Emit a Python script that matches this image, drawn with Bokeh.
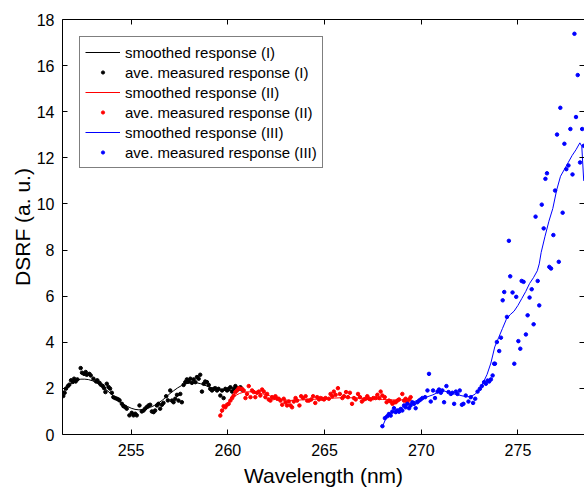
from bokeh.plotting import figure
from bokeh.models import Range1d, LinearAxis, FixedTicker, Legend, LegendItem
from bokeh.embed import file_html
from bokeh.resources import INLINE

# ---- data ----
black_dot_x = [251.49, 251.56, 251.63, 251.73, 251.80, 251.89, 251.98, 252.05, 252.13, 252.22,
               252.39, 252.46, 252.56, 252.65, 252.70, 252.84, 252.91, 253.05, 253.19, 253.25,
               253.36, 253.43, 253.53, 253.60, 253.67, 253.74, 253.83, 253.91, 254.00, 254.08,
               254.17, 254.26, 254.34, 254.40, 254.52, 254.60, 254.69, 254.77, 254.91, 255.03,
               255.12, 255.21, 255.29, 255.43, 255.55, 255.64, 255.72, 255.81, 255.90, 255.98,
               256.07, 256.16, 256.24, 256.33, 256.41, 256.50, 256.59, 256.67, 256.81, 256.90,
               257.02, 257.11, 257.19, 257.28, 257.37, 257.45, 257.54, 257.62, 257.71, 257.80,
               257.88, 257.97, 258.06, 258.14, 258.23, 258.32, 258.40, 258.49, 258.57, 258.66,
               258.75, 258.83, 258.92, 259.01, 259.09, 259.18, 259.27, 259.35, 259.44, 259.52,
               259.61, 259.70, 259.78, 259.87, 259.96, 260.04, 260.13, 260.22, 260.30, 260.39,
               260.47, 260.56, 260.65, 260.73]
black_dot_y = [1.67, 1.81, 1.99, 2.10, 2.16, 2.35, 2.28, 2.42, 2.30, 2.39,
               2.88, 2.68, 2.63, 2.71, 2.59, 2.63, 2.56, 2.42, 2.30, 2.35,
               2.24, 2.16, 2.10, 2.01, 1.84, 2.20, 2.06, 1.99, 1.81, 1.62,
               1.58, 1.55, 1.52, 1.48, 1.33, 1.23, 1.19, 1.12, 0.83, 0.94,
               0.83, 0.90, 0.83, 1.26, 1.00, 1.04, 1.12, 1.19, 1.26, 1.29,
               1.00, 0.97, 1.04, 1.26, 1.33, 1.12, 1.29, 1.37, 1.66, 1.48,
               1.91, 1.47, 1.40, 1.55, 1.72, 1.47, 1.76, 1.40, 2.15, 2.27,
               2.39, 2.30, 2.42, 2.24, 2.39, 2.27, 2.49, 2.42, 2.59, 1.86,
               2.20, 2.30, 2.27, 2.15, 1.98, 1.91, 1.98, 2.01, 1.91, 1.98,
               1.69, 1.91, 1.58, 1.98, 1.91, 1.98, 2.05, 1.86, 1.98, 2.10,
               2.01, 1.98, 2.05, 1.95]

black_line_x = [251.4, 251.6, 251.8, 252.0, 252.2, 252.4, 252.6, 252.8, 253.0, 253.2,
                253.4, 253.6, 253.8, 254.0, 254.2, 254.4, 254.6, 254.8, 255.0, 255.2,
                255.4, 255.6, 255.8, 256.0, 256.2, 256.4, 256.6, 256.8, 257.0, 257.2,
                257.4, 257.6, 257.8, 258.0, 258.2, 258.4, 258.6, 258.8, 259.0, 259.2,
                259.4, 259.6, 259.8, 260.0, 260.2, 260.4]
black_line_y = [1.75, 1.98, 2.15, 2.28, 2.36, 2.40, 2.40, 2.38, 2.33, 2.25,
                2.15, 2.02, 1.88, 1.73, 1.58, 1.44, 1.32, 1.22, 1.14, 1.09,
                1.07, 1.08, 1.12, 1.18, 1.26, 1.36, 1.48, 1.62, 1.77, 1.90,
                2.02, 2.12, 2.19, 2.23, 2.25, 2.24, 2.20, 2.14, 2.07, 2.01,
                1.96, 1.93, 1.91, 1.90, 1.90, 1.92]

red_dot_x = [259.61, 259.70, 259.78, 259.87, 259.96, 260.04, 260.13, 260.22, 260.30, 260.39,
             260.47, 260.56, 260.65, 260.73, 260.82, 260.91, 260.99, 261.08, 261.17, 261.25,
             261.34, 261.42, 261.51, 261.60, 261.68, 261.77, 261.86, 261.94, 262.03, 262.11,
             262.20, 262.29, 262.37, 262.46, 262.55, 262.63, 262.72, 262.81, 262.89, 262.98,
             263.06, 263.15, 263.24, 263.32, 263.41, 263.50, 263.58, 263.70, 263.79, 263.89,
             264.02, 264.10, 264.19, 264.31, 264.41, 264.52, 264.62, 264.71, 264.79, 264.88,
             264.97, 265.05, 265.22, 265.31, 265.40, 265.48, 265.57, 265.69, 265.79, 265.92,
             266.00, 266.11, 266.21, 266.31, 266.42, 266.52, 266.61, 266.73, 266.83, 266.93,
             267.04, 267.12, 267.21, 267.30, 267.38, 267.52, 267.64, 267.73, 267.83, 267.90,
             267.99, 268.11, 268.21, 268.33, 268.42, 268.51, 268.59, 268.68, 268.77, 268.85,
             269.02, 269.11, 269.19, 269.28, 269.37, 269.45]
red_dot_y = [0.82, 1.04, 1.23, 1.18, 1.29, 1.33, 1.47, 1.58, 1.69, 1.84,
             1.91, 2.01, 1.98, 1.98, 1.91, 1.58, 1.76, 2.10, 1.62, 1.91,
             1.84, 1.62, 1.81, 1.86, 1.69, 1.95, 1.86, 1.62, 1.76, 1.52,
             1.47, 1.62, 1.58, 1.66, 1.55, 1.55, 1.47, 1.29, 1.55, 1.40,
             1.26, 1.43, 1.26, 1.18, 1.43, 1.58, 1.47, 1.26, 1.66, 1.58,
             1.66, 1.47, 1.47, 1.52, 1.66, 1.37, 1.62, 1.52, 1.58, 1.55,
             1.52, 1.58, 1.55, 1.76, 1.66, 1.86, 1.72, 2.01, 1.76, 1.58,
             1.66, 1.84, 1.62, 1.81, 1.33, 1.58, 1.52, 1.76, 1.62, 1.43,
             1.52, 1.55, 1.66, 1.55, 1.52, 1.58, 1.58, 1.72, 1.58, 1.86,
             1.69, 1.62, 1.40, 1.47, 1.43, 1.33, 1.40, 1.40, 1.47, 1.52,
             1.76, 1.47, 1.55, 1.40, 1.52, 1.62]

red_line_x = [259.6, 259.7, 259.8, 259.9, 260.0, 260.2, 260.4, 260.6, 260.8, 261.0,
              261.2, 261.4, 261.6, 261.8, 262.0, 262.2, 262.4, 262.6, 262.8, 263.0,
              263.2, 263.4, 263.6, 263.8, 264.0, 264.5, 265.0, 265.5, 266.0, 266.5,
              267.0, 267.5, 268.0, 268.5, 269.0, 269.5]
red_line_y = [0.85, 1.00, 1.15, 1.27, 1.38, 1.56, 1.69, 1.78, 1.83, 1.85,
              1.85, 1.83, 1.80, 1.76, 1.72, 1.67, 1.62, 1.57, 1.53, 1.50,
              1.48, 1.48, 1.49, 1.50, 1.51, 1.53, 1.55, 1.58, 1.60, 1.59,
              1.57, 1.55, 1.52, 1.50, 1.50, 1.50]

blue_dot_x = [267.99, 268.12, 268.24, 268.33, 268.42, 268.50, 268.59, 268.68, 268.76, 268.85,
              268.94, 269.02, 269.11, 269.19, 269.28, 269.37, 269.45, 269.54, 269.63, 269.71,
              269.80, 269.89, 269.97, 270.06, 270.20, 270.32, 270.40, 270.49, 270.61, 270.71,
              270.84, 270.92, 271.01, 271.09, 271.18, 271.30, 271.41, 271.53, 271.61, 271.70,
              271.79, 271.87, 271.99, 272.10, 272.18, 272.30, 272.44, 272.56, 272.68, 272.79,
              272.91, 273.03, 273.13, 273.25, 273.34, 273.43, 273.51, 273.60, 273.69, 273.77,
              273.81, 273.91, 274.03, 274.12, 274.21, 274.29, 274.43, 274.53, 274.60, 274.72,
              274.81, 274.91, 275.02, 275.12, 275.19, 275.29, 275.41, 275.50, 275.60, 275.71,
              275.81, 275.91, 276.02, 276.10, 276.23, 276.33, 276.42, 276.50, 276.62, 276.71,
              276.83, 276.92, 277.02, 277.11, 277.19, 277.31, 277.40, 277.50, 277.61, 277.71,
              277.82, 277.92, 278.00, 278.09, 278.21, 278.32, 278.40]
blue_dot_y = [0.36, 0.71, 0.79, 0.89, 0.82, 0.99, 1.14, 0.97, 1.04, 0.99,
              1.11, 1.04, 1.26, 1.18, 1.33, 1.14, 1.26, 1.40, 1.33, 1.14,
              1.40, 1.47, 1.52, 1.58, 1.62, 1.91, 2.63, 1.43, 1.91, 1.58,
              1.86, 1.95, 1.81, 1.91, 1.40, 2.10, 1.84, 1.76, 1.81, 1.33,
              1.86, 1.76, 1.91, 1.29, 1.33, 1.69, 1.43, 1.62, 1.37, 1.55,
              1.86, 1.98, 2.10, 2.27, 2.20, 2.34, 2.30, 2.39, 2.56, 3.07,
              3.07, 4.01, 3.62, 4.20, 5.82, 6.18, 5.10, 8.40, 6.86, 6.16,
              3.07, 5.97, 4.05, 3.72, 6.66, 6.62, 4.34, 5.17, 5.94, 6.30,
              4.78, 9.45, 6.66, 5.60, 9.97, 8.94, 11.09, 11.33, 7.27, 7.20,
              8.65, 10.58, 13.01, 7.49, 14.17, 9.62, 12.61, 11.51, 11.67, 13.25,
              11.28, 17.38, 13.77, 15.59, 11.80, 13.25, 12.52]

blue_line_x = [268.0, 268.2, 268.4, 268.6, 268.8, 269.0, 269.2, 269.4, 269.6, 269.8,
               270.0, 270.2, 270.4, 270.6, 270.8, 271.0, 271.2, 271.4, 271.6, 271.8,
               272.0, 272.2, 272.4, 272.6, 272.8, 273.0, 273.2, 273.4, 273.6, 273.8,
               274.0, 274.2, 274.4, 274.6, 274.8, 275.0, 275.2, 275.4, 275.6, 275.8,
               276.0, 276.1, 276.2, 276.4, 276.6, 276.8, 277.0, 277.2, 277.4, 277.6,
               277.8, 278.0, 278.2, 278.3, 278.4]
blue_line_y = [0.36, 0.75, 0.90, 1.02, 1.10, 1.18, 1.26, 1.34, 1.42, 1.48,
               1.54, 1.60, 1.66, 1.72, 1.80, 1.86, 1.88, 1.84, 1.78, 1.74,
               1.70, 1.66, 1.64, 1.66, 1.76, 1.95, 2.25, 2.60, 3.10, 3.80,
               4.20, 4.60, 5.00, 5.20, 5.35, 5.60, 5.90, 6.20, 6.55, 6.80,
               7.10, 7.40, 7.90, 8.60, 9.25, 9.80, 10.60, 11.20, 11.50, 11.80,
               12.10, 12.35, 12.65, 12.50, 11.00]

x_ticks = [255, 260, 265, 270, 275]
y_ticks = [0, 2, 4, 6, 8, 10, 12, 14, 16, 18]

legend_labels = ["smoothed response (I)", "ave. measured response (I)",
                 "smoothed response (II)", "ave. measured response (II)",
                 "smoothed response (III)", "ave. measured response (III)"]

FONT = "Liberation Sans"

p = figure(width=584, height=489, output_backend="svg", toolbar_location=None,
           x_range=Range1d(251.45, 278.44), y_range=Range1d(0, 18),
           min_border_left=62, min_border_right=0, min_border_top=19, min_border_bottom=55,
           x_axis_label="Wavelength (nm)", y_axis_label="DSRF (a. u.)")
p.outline_line_color = None
p.grid.visible = False
p.background_fill_color = "white"
p.border_fill_color = "white"

for ax in (p.xaxis[0], p.yaxis[0]):
    ax.major_tick_in = 5
    ax.major_tick_out = 0
    ax.minor_tick_line_color = None
    ax.axis_line_color = "black"
    ax.major_tick_line_color = "black"
    ax.major_label_text_font = FONT
    ax.major_label_text_font_size = "16px"
    ax.major_label_text_color = "black"
    ax.axis_label_text_font = FONT
    ax.axis_label_text_font_size = "21px"
    ax.axis_label_text_font_style = "normal"
    ax.axis_label_text_color = "black"

p.xaxis[0].ticker = FixedTicker(ticks=x_ticks)
p.yaxis[0].ticker = FixedTicker(ticks=y_ticks)
p.xaxis[0].major_label_standoff = 9
p.xaxis[0].axis_label_standoff = 5
p.yaxis[0].major_label_standoff = 8
p.yaxis[0].axis_label_standoff = 0

top = LinearAxis(ticker=FixedTicker(ticks=x_ticks), major_tick_in=5, major_tick_out=0,
                 minor_tick_line_color=None, major_label_overrides={t: "" for t in x_ticks},
                 major_label_text_font_size="1px", major_label_standoff=0,
                 axis_line_color="black")
right = LinearAxis(ticker=FixedTicker(ticks=y_ticks), major_tick_in=5, major_tick_out=0,
                   minor_tick_line_color=None, major_label_overrides={t: "" for t in y_ticks},
                   major_label_text_font_size="1px", major_label_standoff=0,
                   axis_line_color="black")
p.add_layout(top, "above")
p.add_layout(right, "right")

r1 = p.line(black_line_x, black_line_y, line_color="black", line_width=1)
r2 = p.scatter(black_dot_x, black_dot_y, size=3.5, fill_color="black", line_color="black")
r3 = p.line(red_line_x, red_line_y, line_color="red", line_width=1)
r4 = p.scatter(red_dot_x, red_dot_y, size=3.5, fill_color="red", line_color="red")
r5 = p.line(blue_line_x, blue_line_y, line_color="blue", line_width=1)
r6 = p.scatter(blue_dot_x, blue_dot_y, size=3.5, fill_color="blue", line_color="blue")

renderers = [r1, r2, r3, r4, r5, r6]
legend = Legend(items=[LegendItem(label=lab, renderers=[r]) for lab, r in zip(legend_labels, renderers)],
                location="top_left", margin=17, padding=5, spacing=0,
                glyph_width=35, glyph_height=8, label_height=20, label_standoff=5,
                label_text_font=FONT, label_text_font_size="15px", label_text_color="black",
                border_line_color="black", border_line_width=1, background_fill_alpha=1.0)
p.add_layout(legend)

open("out.html", "w").write(file_html(p, INLINE))
